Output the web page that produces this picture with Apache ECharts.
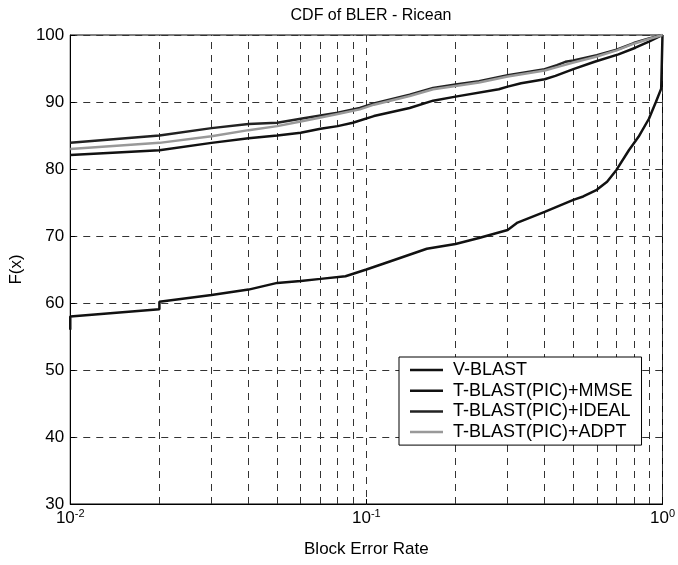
<!DOCTYPE html>
<html>
<head>
<meta charset="utf-8">
<title>CDF of BLER - Ricean</title>
<script src="https://cdn.jsdelivr.net/npm/echarts@6/dist/echarts.min.js"></script>
<style>
html, body { margin: 0; padding: 0; background: #fff; }
#main { width: 678px; height: 565px; }
</style>
</head>
<body>
<div id="main"></div>
<script>
// CDF of BLER, pairs of [block error rate, F(x)]
var vBlast = [[0.01,56],[0.01,58],[0.02,59.05],[0.02,60.2],[0.03,61.2],[0.04,62.0],[0.05,63.0],[0.06,63.3],[0.07,63.6],[0.085,64.0],[0.1,65.0],[0.12,66.2],[0.16,68.1],[0.2,68.8],[0.24,69.7],[0.3,70.9],[0.324,72.0],[0.4,73.6],[0.5,75.4],[0.54,75.9],[0.6,76.9],[0.65,78.1],[0.7,79.9],[0.77,82.8],[0.83,84.8],[0.9,87.5],[0.95,90.0],[0.99,92.0],[1,100]];
var tMmse = [[0.01,82.1],[0.02,82.8],[0.03,83.9],[0.04,84.6],[0.05,85.0],[0.06,85.4],[0.07,86.0],[0.08,86.4],[0.09,86.9],[0.106,87.9],[0.14,89.1],[0.168,90.2],[0.2,90.8],[0.28,91.9],[0.3,92.3],[0.333,92.8],[0.4,93.4],[0.435,93.9],[0.5,94.9],[0.59,96.0],[0.71,97.1],[0.81,98.1],[0.9,99.0],[1,100]];
var tIdeal = [[0.01,83.9],[0.02,85.0],[0.03,86.1],[0.04,86.7],[0.05,86.9],[0.06,87.5],[0.07,88.0],[0.08,88.4],[0.095,89.1],[0.106,89.8],[0.14,91.1],[0.168,92.1],[0.2,92.6],[0.24,93.1],[0.3,94.0],[0.4,94.9],[0.44,95.5],[0.47,96.0],[0.5,96.2],[0.6,97.0],[0.7,97.8],[0.8,98.8],[0.9,99.5],[1,100]];
var tAdpt = [[0.01,83.0],[0.02,83.9],[0.03,84.9],[0.04,85.8],[0.05,86.4],[0.06,87.1],[0.07,87.7],[0.08,88.2],[0.095,88.9],[0.106,89.6],[0.14,90.9],[0.168,91.9],[0.2,92.4],[0.24,92.9],[0.3,93.8],[0.4,94.7],[0.44,95.2],[0.5,95.9],[0.6,96.8],[0.7,97.7],[0.8,98.7],[0.9,99.4],[1,100]];

var seriesNames = ['V-BLAST', 'T-BLAST(PIC)+MMSE', 'T-BLAST(PIC)+IDEAL', 'T-BLAST(PIC)+ADPT'];
// dashed log grid lines between the decades
var xMinorGrid = [0.02,0.03,0.04,0.05,0.06,0.07,0.08,0.09,0.2,0.3,0.4,0.5,0.6,0.7,0.8,0.9];
var yMin = 30, yMax = 100, yStep = 10;

var FONT = "'Liberation Sans', Arial, Helvetica, sans-serif";
var dash = { color: '#333', width: 1, type: [7, 6] };

var myChart = echarts.init(document.getElementById('main'));

function lineSeries(name, data, color, z) {
	return {
		name: name,
		type: 'line',
		data: data,
		symbol: 'none',
		z: z,
		lineStyle: { color: color, width: 2.5 },
		itemStyle: { color: color }
	};
}

var option = {
	backgroundColor: '#fff',
	animation: false,
	title: {
		text: 'CDF of BLER - Ricean',
		left: 366,
		top: 3,
		textAlign: 'center',
		textStyle: { fontFamily: FONT, fontSize: 16, fontWeight: 'normal', color: '#000' }
	},
	grid: {
		left: 69, right: 14, top: 35, bottom: 61,
		show: true, borderColor: '#000', borderWidth: 1,
		containLabel: false
	},
	legend: {
		data: seriesNames,
		orient: 'vertical',
		left: 399,
		top: 357,
		z: 20,
		icon: 'rect',
		itemWidth: 33,
		itemHeight: 2.5,
		itemGap: 2.7,
		padding: [4, 9, 4, 11],
		backgroundColor: '#fff',
		borderColor: '#000',
		borderWidth: 1,
		borderRadius: 0,
		textStyle: { fontFamily: FONT, fontSize: 18, color: '#000', lineHeight: 17, padding: [0, 0, 0, 5] }
	},
	xAxis: {
		type: 'log',
		logBase: 10,
		min: 0.01,
		max: 1,
		name: 'Block Error Rate',
		nameLocation: 'middle',
		nameGap: 37,
		nameTextStyle: { fontFamily: FONT, fontSize: 17, color: '#000' },
		axisLine: { lineStyle: { color: '#000', width: 1 } },
		axisTick: { inside: true, length: 5, lineStyle: { color: '#000' } },
		axisLabel: {
			margin: 4,
			formatter: function (v) {
				var p = Math.round(Math.log(v) / Math.LN10);
				return '{b|10}{s|' + p + '}';
			},
			rich: {
				b: { fontFamily: FONT, fontSize: 17, color: '#000' },
				s: { fontFamily: FONT, fontSize: 11, color: '#000', padding: [0, 0, 10, 0] }
			}
		},
		splitLine: { show: true, lineStyle: dash }
	},
	yAxis: {
		type: 'value',
		min: yMin,
		max: yMax,
		interval: yStep,
		name: 'F(x)',
		nameLocation: 'middle',
		nameGap: 40,
		nameTextStyle: { fontFamily: FONT, fontSize: 17, color: '#000' },
		axisLine: { show: true, lineStyle: { color: '#000', width: 1 } },
		axisTick: { inside: true, length: 5, lineStyle: { color: '#000' } },
		axisLabel: { margin: 6, fontFamily: FONT, fontSize: 17, color: '#000' },
		splitLine: { show: true, lineStyle: dash }
	},
	series: [
		{
			name: 'grid',
			type: 'line',
			data: [],
			z: 1,
			silent: true,
			markLine: {
				silent: true,
				symbol: 'none',
				z: 1,
				label: { show: false },
				lineStyle: dash,
				emphasis: { disabled: true },
				data: xMinorGrid.map(function (v) { return { xAxis: v }; })
			}
		},
		lineSeries(seriesNames[0], vBlast, '#111', 3),
		lineSeries(seriesNames[1], tMmse, '#111', 3),
		lineSeries(seriesNames[2], tIdeal, '#222', 3),
		lineSeries(seriesNames[3], tAdpt, '#999', 4)
	]
};

myChart.setOption(option);
</script>
</body>
</html>
